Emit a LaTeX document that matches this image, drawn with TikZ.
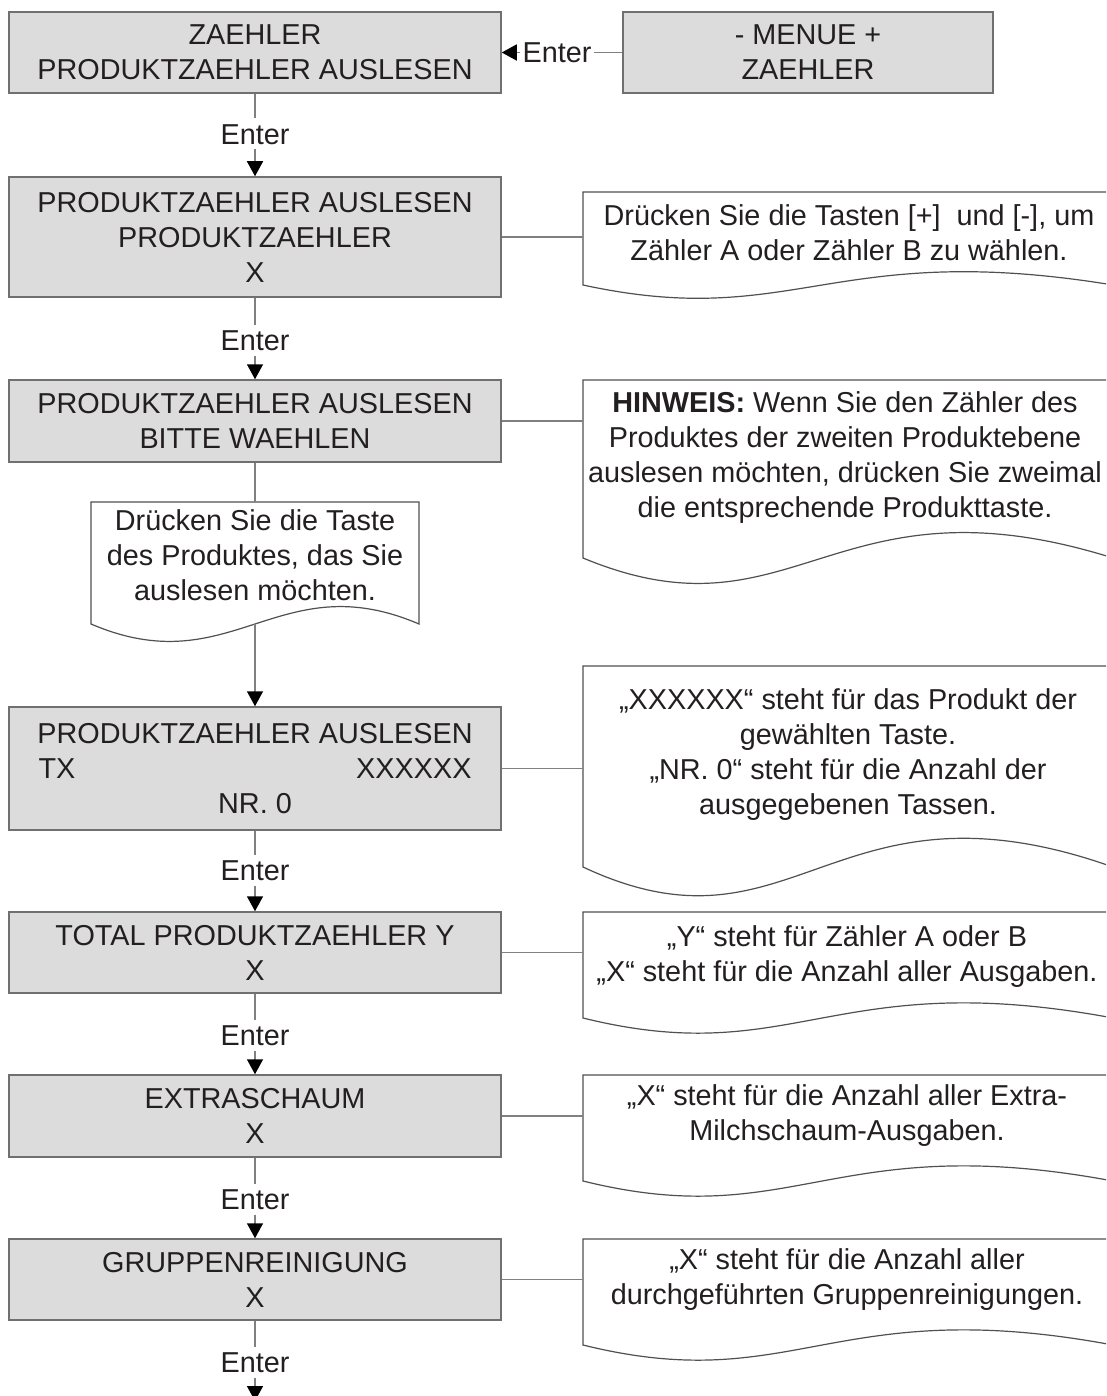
\documentclass[tikz,border=0pt]{standalone}
\usepackage{fontspec}
\setmainfont{Liberation Sans}
\usetikzlibrary{arrows.meta}
\definecolor{boxfill}{RGB}{220,220,220}
\definecolor{boxgray}{RGB}{112,112,112}
\definecolor{notegray}{RGB}{80,80,80}
\definecolor{conngray}{RGB}{128,128,128}
\definecolor{txt}{RGB}{35,31,32}

% #1 name, #2 left x, #3 top y, #4 width, #5 height to wave start, #6/#7 control fractions
\newcommand\docnote[7]{%
  \pgfmathsetmacro\dnYb{#3+#5}%
  \pgfmathsetmacro\dnK{0.495*#5}%
  \pgfmathsetmacro\dnXa{#2+#6*#4}%
  \pgfmathsetmacro\dnXb{#2+#7*#4}%
  \pgfmathsetmacro\dnYlo{\dnYb+\dnK}%
  \pgfmathsetmacro\dnYhi{\dnYb-\dnK}%
  \node[notebox, minimum width=#4pt, minimum height=#5pt, anchor=north west] (#1) at (#2,#3) {};
  \path[noteline] (#1.south west) -- (#1.north west) -- (#1.north east) -- (#1.south east)
     .. controls (\dnXb,\dnYhi) and (\dnXa,\dnYlo) .. (#1.south west) -- cycle;
}

\begin{document}
\begin{tikzpicture}[x=1pt,y=-1pt,
  every node/.style={font=\fontsize{28.8}{35}\selectfont, text=txt},
  graybox/.style={draw=boxgray, fill=boxfill, line width=1.5pt, minimum width=492pt, align=center, inner sep=0pt},
  notebox/.style={inner sep=0pt, outer sep=0pt},
  noteline/.style={draw=notegray, fill=white, line width=1.2pt},
  notetext/.style={align=center, inner sep=0pt},
  conn/.style={draw=conngray, line width=1.5pt},
  arr/.style={-{Triangle[width=16pt,length=15pt,color=black,fill=black]}},
  enterlbl/.style={inner xsep=4pt, inner ysep=5pt, text height=20.6pt, text depth=0pt},
]
\useasboundingbox (0,0) rectangle (1106,1396);
\clip (0,0) rectangle (1106,1396);
\fill[white] (0,0) rectangle (1106,1396);

% ---- left column boxes
\node[graybox, minimum height=81pt] (b1) at (255,52.5) {ZAEHLER\\PRODUKTZAEHLER AUSLESEN};
\node[graybox, minimum width=370pt, minimum height=81pt] (m) at (808,52.5) {- MENUE +\\ZAEHLER};
\node[graybox, minimum height=120pt] (b2) at (255,237) {PRODUKTZAEHLER AUSLESEN\\PRODUKTZAEHLER\\X};
\node[graybox, minimum height=82pt] (b3) at (255,421) {PRODUKTZAEHLER AUSLESEN\\BITTE WAEHLEN};
\node[graybox, minimum height=123pt] (b4) at (255,768.5) {PRODUKTZAEHLER AUSLESEN\\\makebox[433pt]{TX\hfill XXXXXX}\\NR. 0};
\node[graybox, minimum height=81pt] (b5) at (255,952.5) {TOTAL PRODUKTZAEHLER Y\\X};
\node[graybox, minimum height=82pt] (b6) at (255,1116) {EXTRASCHAUM\\X};
\node[graybox, minimum height=81pt] (b7) at (255,1279.5) {GRUPPENREINIGUNG\\X};
\coordinate (end) at (255,1401);

% ---- notes
\docnote{n2}{583}{192}{530}{93}{0.40}{0.47}
\docnote{n3}{583}{380}{530}{178}{0.40}{0.47}
\docnote{nm}{91}{502}{328}{122}{0.43}{0.57}
\docnote{n4}{583}{666}{530}{201}{0.40}{0.47}
\docnote{n5}{583}{912}{530}{106}{0.40}{0.47}
\docnote{n6}{583}{1075}{530}{106}{0.40}{0.47}
\docnote{n7}{583}{1239}{530}{106}{0.40}{0.47}

\node[notetext] (t2) at (849,232.5) {Drücken Sie die Tasten [+]~ und [-], um\\Zähler A oder Zähler B zu wählen.};
\node[notetext] (t3) at (845,458) {\textbf{HINWEIS:} Wenn Sie den Zähler des\\Produktes der zweiten Produktebene\\auslesen möchten, drücken Sie zweimal\\die entsprechende Produkttaste.};
\node[notetext] (tm) at (255,555) {Drücken Sie die Taste\\des Produktes, das Sie\\auslesen möchten.};
\node[notetext] (t4) at (848,755) {„XXXXXX“ steht für das Produkt der\\gewählten Taste.\\„NR. 0“ steht für die Anzahl der\\ausgegebenen Tassen.};
\node[notetext] (t5) at (847,957) {„Y“ steht für Zähler A oder B\\„X“ steht für die Anzahl aller Ausgaben.};
\node[notetext] (t6) at (847,1116) {„X“ steht für die Anzahl aller Extra-\\Milchschaum-Ausgaben.};
\node[notetext] (t7) at (847,1280) {„X“ steht für die Anzahl aller\\durchgeführten Gruppenreinigungen.};

% ---- Enter labels
\node[enterlbl, inner xsep=2pt] (e0) at (557,52.5) {Enter};
\node[enterlbl] (e1) at (255,134) {Enter};
\node[enterlbl] (e2) at (255,340) {Enter};
\node[enterlbl] (e4) at (255,870) {Enter};
\node[enterlbl] (e5) at (255,1035) {Enter};
\node[enterlbl] (e6) at (255,1199) {Enter};
\node[enterlbl] (e7) at (255,1362) {Enter};

% ---- connectors
\draw[conn] (m.west) -- (e0.east);
\draw[conn, arr] (e0.west) -- (b1.east);
\draw[conn] (b1.south) -- (e1.north);
\draw[conn, arr] (e1.south) -- (b2.north);
\draw[conn] (b2.south) -- (e2.north);
\draw[conn, arr] (e2.south) -- (b3.north);
\draw[conn] (b3.south) -- (nm.north);
\draw[conn, arr] (nm.south) -- (b4.north);
\draw[conn] (b4.south) -- (e4.north);
\draw[conn, arr] (e4.south) -- (b5.north);
\draw[conn] (b5.south) -- (e5.north);
\draw[conn, arr] (e5.south) -- (b6.north);
\draw[conn] (b6.south) -- (e6.north);
\draw[conn, arr] (e6.south) -- (b7.north);
\draw[conn] (b7.south) -- (e7.north);
\draw[conn, arr] (e7.south) -- (end);

\draw[conn] (b2.east) -- (b2.east -| n2.west);
\draw[conn] (b3.east) -- (b3.east -| n3.west);
\draw[conn] (b4.east) -- (b4.east -| n4.west);
\draw[conn] (b5.east) -- (b5.east -| n5.west);
\draw[conn] (b6.east) -- (b6.east -| n6.west);
\draw[conn] (b7.east) -- (b7.east -| n7.west);
\end{tikzpicture}
\end{document}
